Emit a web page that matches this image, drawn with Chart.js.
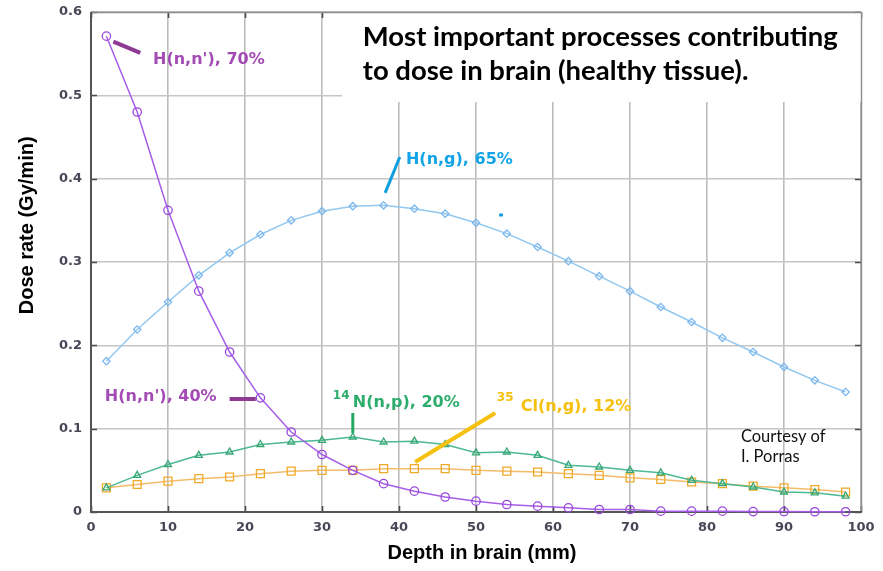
<!DOCTYPE html>
<html>
<head>
<meta charset="utf-8">
<script src="https://cdn.jsdelivr.net/npm/chart.js@4.4.0/dist/chart.umd.min.js"></script>
<style>
  html, body { margin: 0; padding: 0; background: #ffffff; }
  #wrap { width: 883px; height: 571px; }
</style>
</head>
<body>
<div id="wrap"><canvas id="c" width="883" height="571"></canvas></div>
<script>
// Depth in brain (mm) at which each dose rate was computed
const depthMm = [2, 6, 10, 14, 18, 22, 26, 30, 34, 38, 42, 46, 50, 54, 58, 62, 66, 70, 74, 78, 82, 86, 90, 94, 98];

// Dose rate (Gy/min) per process
const hnnRate = [0.571, 0.480, 0.362, 0.265, 0.192, 0.137, 0.096, 0.069, 0.050, 0.034, 0.025, 0.018, 0.013, 0.009, 0.007, 0.005, 0.003, 0.003, 0.001, 0.001, 0.001, 0.0005, 0.0005, 0.0003, 0.0003];
const hngRate = [0.181, 0.219, 0.252, 0.284, 0.311, 0.333, 0.350, 0.361, 0.367, 0.368, 0.364, 0.358, 0.347, 0.334, 0.318, 0.301, 0.283, 0.265, 0.246, 0.228, 0.209, 0.192, 0.174, 0.158, 0.144];
const n14Rate = [0.029, 0.044, 0.057, 0.068, 0.072, 0.081, 0.084, 0.086, 0.090, 0.084, 0.085, 0.081, 0.071, 0.072, 0.068, 0.056, 0.054, 0.050, 0.047, 0.038, 0.034, 0.030, 0.024, 0.023, 0.019];
const cl35Rate = [0.029, 0.033, 0.037, 0.040, 0.042, 0.046, 0.049, 0.050, 0.050, 0.052, 0.052, 0.052, 0.050, 0.049, 0.048, 0.046, 0.044, 0.041, 0.039, 0.036, 0.034, 0.031, 0.029, 0.027, 0.024];

// Axis ticks
const xTickValues = [0, 10, 20, 30, 40, 50, 60, 70, 80, 90, 100];
const xTickLabels = ['0', '10', '20', '30', '40', '50', '60', '70', '80', '90', '100'];
const yTickValues = [0, 0.1, 0.2, 0.3, 0.4, 0.5, 0.6];
const yTickLabels = ['0', '0.1', '0.2', '0.3', '0.4', '0.5', '0.6'];

// Texts
const titleLines = ['Most important processes contributing', 'to dose in brain (healthy tissue).'];
const xTitle = 'Depth in brain (mm)';
const yTitle = 'Dose rate (Gy/min)';
const creditLines = ['Courtesy of', 'I. Porras'];

const toPoints = (vals) => depthMm.map((d, i) => ({ x: d, y: vals[i] }));

const TICK_COLOR = '#474757';
const NOTE_FONT = 'bold 16px "DejaVu Sans"';
const SUP_FONT = 'bold 12px "DejaVu Sans"';

const framePlugin = {
  id: 'frameAndNotes',
  beforeDatasetsDraw(chart) {
    const { ctx, chartArea: a, scales: { x, y } } = chart;
    ctx.save();
    // inward ticks on all four sides
    ctx.strokeStyle = '#4a4a4a';
    ctx.lineWidth = 1.6;
    ctx.beginPath();
    xTickValues.forEach(v => {
      const px = Math.round(x.getPixelForValue(v)) + 0.5;
      ctx.moveTo(px, a.bottom); ctx.lineTo(px, a.bottom - 6);
      ctx.moveTo(px, a.top); ctx.lineTo(px, a.top + 6);
    });
    yTickValues.forEach(v => {
      const py = Math.round(y.getPixelForValue(v)) + 0.5;
      ctx.moveTo(a.left, py); ctx.lineTo(a.left + 6, py);
      ctx.moveTo(a.right, py); ctx.lineTo(a.right - 6, py);
    });
    ctx.stroke();

    // white panel behind the title
    const bx = x.getPixelForValue(32.6);
    const by = y.getPixelForValue(0.492);
    ctx.fillStyle = '#ffffff';
    ctx.fillRect(bx, a.top, a.right - bx, by - a.top);

    // plot frame: top/right lighter, left/bottom darker
    ctx.lineWidth = 1.4;
    ctx.strokeStyle = '#8c8c8c';
    ctx.beginPath();
    ctx.moveTo(a.left, a.top + 0.5); ctx.lineTo(a.right + 0.5, a.top + 0.5); ctx.lineTo(a.right + 0.5, a.bottom);
    ctx.stroke();
    ctx.lineWidth = 2;
    ctx.strokeStyle = '#555555';
    ctx.beginPath();
    ctx.moveTo(a.left, a.top); ctx.lineTo(a.left, a.bottom); ctx.lineTo(a.right + 1, a.bottom);
    ctx.stroke();
    ctx.restore();
  },
  afterDatasetsDraw(chart) {
    const { ctx, chartArea: a, scales: { x, y } } = chart;
    const X = v => x.getPixelForValue(v);
    const Y = v => y.getPixelForValue(v);
    ctx.save();

    // title, fitted to its panel width
    ctx.fillStyle = '#000000';
    ctx.textBaseline = 'alphabetic';
    ctx.textAlign = 'left';
    ctx.font = 'bold 26px Lato';
    const w0 = ctx.measureText(titleLines[0]).width;
    const titleSize = 26 * 475 / w0;
    ctx.font = 'bold ' + titleSize.toFixed(2) + 'px Lato';
    ctx.fillText(titleLines[0], X(35.3), Y(0.559));
    ctx.fillText(titleLines[1], X(35.3), Y(0.5185));

    // leader lines
    const seg = (x1, y1, x2, y2, color, w) => {
      ctx.strokeStyle = color; ctx.lineWidth = w; ctx.lineCap = 'butt';
      ctx.beginPath(); ctx.moveTo(X(x1), Y(y1)); ctx.lineTo(X(x2), Y(y2)); ctx.stroke();
    };
    seg(2.9, 0.5645, 6.4, 0.551, '#8e3a94', 4);
    seg(38.2, 0.383, 40.1, 0.426, '#0e9ee0', 3);
    seg(53.0, 0.3564, 53.5, 0.3564, '#0e9ee0', 3);
    seg(18.0, 0.1356, 21.4, 0.1356, '#8e3a94', 4);
    seg(34.0, 0.1188, 34.0, 0.0948, '#22a860', 3);
    seg(42.1, 0.0600, 52.5, 0.1188, '#f6c010', 4);

    // process labels
    ctx.textBaseline = 'middle';
    ctx.font = NOTE_FONT;
    ctx.fillStyle = '#a24cb4';
    ctx.fillText("H(n,n'), 70%", X(8.05), Y(0.5424));
    ctx.fillText("H(n,n'), 40%", X(1.8), Y(0.138));
    ctx.fillStyle = '#12a4e6';
    ctx.fillText('H(n,g), 65%', X(40.9), Y(0.4224));
    ctx.fillStyle = '#2cad6c';
    ctx.font = SUP_FONT;
    ctx.fillText('14', X(31.4), Y(0.139));
    ctx.font = NOTE_FONT;
    ctx.fillText('N(n,p), 20%', X(34.0), Y(0.1308));
    ctx.fillStyle = '#f6c010';
    ctx.font = SUP_FONT;
    ctx.fillText('35', X(52.7), Y(0.1368));
    ctx.font = NOTE_FONT;
    ctx.fillText('Cl(n,g), 12%', X(55.8), Y(0.126));

    // credit
    ctx.fillStyle = '#111111';
    ctx.textBaseline = 'alphabetic';
    ctx.font = '16.5px Lato';
    ctx.fillText(creditLines[0], X(84.4), Y(0.084));
    ctx.fillText(creditLines[1], X(84.4), Y(0.060));

    // axis titles
    ctx.fillStyle = '#000000';
    ctx.font = 'bold 20px "Liberation Sans"';
    ctx.textAlign = 'center';
    ctx.textBaseline = 'middle';
    ctx.fillText(xTitle, (a.left + a.right) / 2 + 6, 553);
    ctx.translate(27, Y(0.344));
    ctx.rotate(-Math.PI / 2);
    ctx.fillText(yTitle, 0, 0);
    ctx.restore();
  }
};

const series = (label, vals, line, marker, style, radius) => ({
  label,
  data: toPoints(vals),
  borderColor: line,
  borderWidth: 1.5,
  pointStyle: style,
  pointRadius: radius,
  pointBorderColor: marker,
  pointBackgroundColor: 'rgba(255,255,255,0)',
  pointBorderWidth: 1.3,
  tension: 0,
  clip: false
});

new Chart(document.getElementById('c'), {
  type: 'line',
  data: {
    datasets: [
      series("H(n,n')", hnnRate, '#a65ee8', '#9a48dc', 'circle', 4.2),
      series('H(n,g)', hngRate, '#92c8f0', '#7cb8ee', 'rectRot', 3.7),
      series('14N(n,p)', n14Rate, '#4cb894', '#36a674', 'triangle', 4),
      series('35Cl(n,g)', cl35Rate, '#f4bc6a', '#f0aa28', 'rect', 5.6)
    ]
  },
  options: {
    responsive: false,
    animation: false,
    layout: { padding: { top: 12, right: 22, left: 0, bottom: 0 } },
    plugins: { legend: { display: false }, tooltip: { enabled: false } },
    scales: {
      x: {
        type: 'linear',
        min: 0, max: 100,
        afterFit: s => { s.height = 59; s.paddingLeft = 0; s.paddingRight = 0; },
        afterBuildTicks: s => { s.ticks = xTickValues.map(v => ({ value: v })); },
        ticks: {
          padding: 8,
          color: TICK_COLOR,
          font: { family: 'DejaVu Sans', size: 13, weight: 'bold' },
          callback: (v) => xTickLabels[xTickValues.indexOf(v)]
        },
        grid: { color: '#bcbcbc', lineWidth: 1.6, drawTicks: false },
        border: { display: false }
      },
      y: {
        type: 'linear',
        min: 0, max: 0.6,
        afterFit: s => { s.width = 91; s.paddingTop = 0; s.paddingBottom = 0; },
        afterBuildTicks: s => { s.ticks = yTickValues.map(v => ({ value: v })); },
        ticks: {
          padding: 9,
          color: TICK_COLOR,
          font: { family: 'DejaVu Sans', size: 13, weight: 'bold' },
          callback: (v) => yTickLabels[yTickValues.findIndex(t => Math.abs(t - v) < 1e-9)]
        },
        grid: { color: '#c6c6c6', lineWidth: 1.6, drawTicks: false },
        border: { display: false }
      }
    }
  },
  plugins: [framePlugin]
});
</script>
</body>
</html>
